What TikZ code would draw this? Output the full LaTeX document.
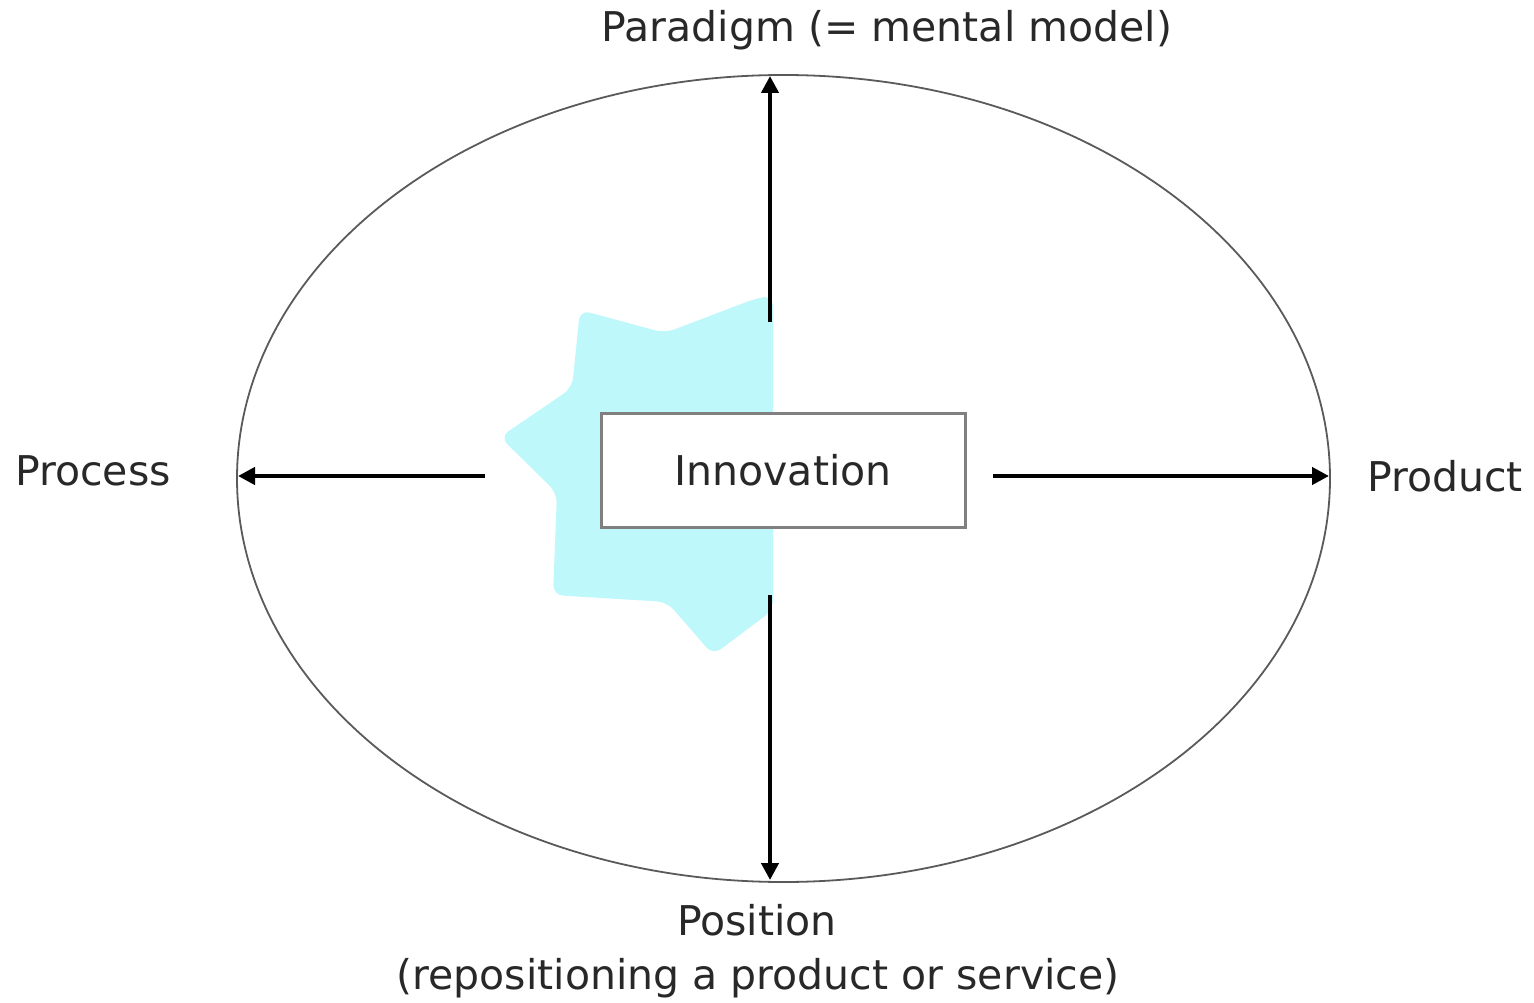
\documentclass[tikz,border=0pt]{standalone}
\usepackage{fontspec}
\setmainfont{DejaVu Sans}
\usetikzlibrary{arrows.meta}
\definecolor{starcyan}{RGB}{190,248,250}
\definecolor{boxgray}{RGB}{128,128,128}
\definecolor{ellgray}{RGB}{90,90,90}
\definecolor{txt}{RGB}{40,40,40}
\tikzset{
  lbl/.style={font=\fontsize{41}{50}\selectfont, text=txt, inner sep=0pt, align=center},
  arr/.style={line width=4.5pt, -{Triangle[length=17pt,width=17pt]}},
  innobox/.style={draw=boxgray, line width=3pt, fill=white, minimum width=364pt, minimum height=114pt, inner sep=0pt, font=\fontsize{41}{50}\selectfont, text=txt}
}
\begin{document}
\begin{tikzpicture}[x=1pt,y=-1pt]
\useasboundingbox (0,0) rectangle (1534,1003);
% star (left half, clipped)
\fill[starcyan, rounded corners=10pt] (773,296) -- (757,298) -- (665,333) -- (580,310) -- (572,388) -- (500,437) -- (557,493) -- (553,595) -- (667,602) -- (713,655) -- (773,610) -- cycle;
% ellipse
\draw[ellgray, line width=1.8pt] (783.5,478.5) ellipse [x radius=546.5, y radius=403.5];
% innovation box
\node[innobox] (innov) at (783,470) {Innovation};
% endpoints
\coordinate (upS) at (770,322);
\coordinate (upE) at (770,76);
\coordinate (dnS) at (770,595);
\coordinate (dnE) at (770,880);
\coordinate (lfS) at (485,476);
\coordinate (lfE) at (238,476);
\coordinate (rtS) at (993,476);
\coordinate (rtE) at (1329,476);
\draw[arr] (upS) -- (upE);
\draw[arr] (dnS) -- (dnE);
\draw[arr] (lfS) -- (lfE);
\draw[arr] (rtS) -- (rtE);
% labels
\node[lbl] (paradigm) at (887,30) {Paradigm (= mental model)};
\node[lbl] (process) at (93,471) {Process};
\node[lbl] (product) at (1445,476) {Product};
\node[lbl] (position) at (757,920) {Position};
\node[lbl] (repos) at (758,978) {(repositioning a product or service)};
\end{tikzpicture}
\end{document}
